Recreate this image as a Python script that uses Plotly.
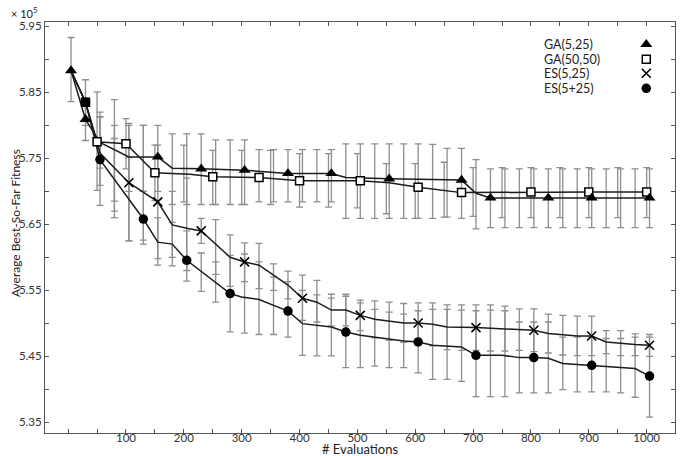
import plotly.graph_objects as go

# ---------------- data ----------------
# GA(5,25)
ga525_x = [5, 30, 55, 105, 155, 180, 230, 305, 380, 455, 480, 555, 680, 705, 730, 830, 905, 1005]
ga525_y = [5.883, 5.809, 5.774, 5.752, 5.752, 5.735, 5.734, 5.732, 5.727, 5.727, 5.721, 5.719, 5.717, 5.697, 5.690, 5.690, 5.690, 5.690]
ga525_mx = [5, 30, 155, 230, 305, 380, 455, 555, 680, 730, 830, 905, 1005]
ga525_my = [5.883, 5.809, 5.752, 5.734, 5.732, 5.727, 5.727, 5.719, 5.717, 5.690, 5.690, 5.690, 5.690]
ga525_ex = [5, 30, 55, 80, 105, 130, 155, 180, 205, 230, 255, 280, 305, 330, 355, 380, 405, 430, 455,
            480, 505, 530, 555, 580, 605, 630, 655, 680, 705, 730, 755, 780, 805, 830, 855, 880, 905,
            930, 955, 980, 1005]
ga525_elo = [5.836, 5.777, 5.735, 5.685, 5.700, 5.700, 5.700, 5.680, 5.680, 5.680, 5.680, 5.680, 5.680,
             5.684, 5.684, 5.684, 5.684, 5.684, 5.684, 5.659, 5.659, 5.659, 5.659, 5.659, 5.659, 5.659,
             5.661, 5.659, 5.643, 5.645, 5.645, 5.645, 5.645, 5.645, 5.645, 5.645, 5.645, 5.645, 5.645,
             5.645, 5.645]
ga525_ehi = [5.933, 5.840, 5.813, 5.839, 5.803, 5.800, 5.800, 5.787, 5.787, 5.787, 5.778, 5.778, 5.778,
             5.763, 5.763, 5.763, 5.763, 5.763, 5.763, 5.772, 5.772, 5.772, 5.772, 5.772, 5.772, 5.771,
             5.765, 5.765, 5.748, 5.734, 5.734, 5.734, 5.734, 5.734, 5.734, 5.734, 5.734, 5.734, 5.734,
             5.734, 5.734]

# GA(50,50)
ga5050_x = [5, 30, 50, 100, 150, 210, 250, 330, 400, 505, 555, 605, 680, 800, 900, 1000]
ga5050_y = [5.883, 5.835, 5.775, 5.772, 5.728, 5.726, 5.722, 5.721, 5.716, 5.716, 5.713, 5.706, 5.698, 5.699, 5.699, 5.699]
ga5050_mx = [30, 50, 100, 150, 250, 330, 400, 505, 605, 680, 800, 900, 1000]
ga5050_my = [5.835, 5.775, 5.772, 5.728, 5.722, 5.721, 5.716, 5.716, 5.706, 5.698, 5.699, 5.699, 5.699]
ga5050_ex = [50, 100, 150, 200, 250, 300, 350, 400, 450, 500, 550, 600, 650, 700, 750, 800, 850, 900, 950, 1000]
ga5050_elo = [5.7015, 5.734, 5.686, 5.684, 5.680, 5.680, 5.680, 5.676, 5.676, 5.675, 5.666, 5.659, 5.661,
              5.662, 5.660, 5.660, 5.660, 5.660, 5.660, 5.660]
ga5050_ehi = [5.8505, 5.810, 5.770, 5.770, 5.762, 5.762, 5.762, 5.757, 5.757, 5.757, 5.742, 5.742, 5.744,
              5.736, 5.736, 5.736, 5.736, 5.736, 5.736, 5.736]

# ES(5,25)
es525_x = [5, 30, 55, 105, 155, 180, 205, 230, 280, 305, 330, 380, 405, 430, 455, 480, 505, 530, 580, 605,
           630, 655, 705, 775, 805, 830, 880, 905, 930, 980, 1005]
es525_y = [5.883, 5.835, 5.758, 5.713, 5.684, 5.649, 5.644, 5.640, 5.600, 5.593, 5.588, 5.558, 5.538, 5.532,
           5.520, 5.520, 5.512, 5.506, 5.5005, 5.5005, 5.4985, 5.4944, 5.4935, 5.4905, 5.4894, 5.4844,
           5.4808, 5.4808, 5.4717, 5.4677, 5.4667]
es525_mx = [105, 155, 230, 305, 405, 505, 605, 705, 805, 905, 1005]
es525_my = [5.713, 5.684, 5.640, 5.593, 5.538, 5.512, 5.5005, 5.4935, 5.4894, 5.4808, 5.4667]
es525_ex = [30, 55, 80, 105, 130, 155, 180, 205, 230, 255, 280, 305, 330, 355, 380, 405, 430, 455, 480,
            505, 530, 555, 580, 605, 630, 655, 680, 705, 730, 755, 780, 805, 830, 855, 880, 905, 930,
            955, 980, 1005]
es525_elo = [5.800, 5.709, 5.670, 5.625, 5.626, 5.598, 5.600, 5.580, 5.621, 5.574, 5.556, 5.563, 5.5525,
             5.550, 5.537, 5.5045, 5.502, 5.496, 5.496, 5.489, 5.478, 5.474, 5.471, 5.470, 5.466, 5.460,
             5.459, 5.459, 5.458, 5.458, 5.459, 5.457, 5.455, 5.452, 5.451, 5.451, 5.454, 5.451, 5.451,
             5.450]
es525_ehi = [5.869, 5.820, 5.800, 5.800, 5.800, 5.770, 5.700, 5.720, 5.659, 5.657, 5.634, 5.622, 5.621,
             5.590, 5.579, 5.573, 5.565, 5.544, 5.544, 5.535, 5.534, 5.532, 5.530, 5.531, 5.531, 5.528,
             5.528, 5.528, 5.528, 5.526, 5.522, 5.522, 5.514, 5.512, 5.511, 5.511, 5.489, 5.489, 5.484,
             5.483]

# ES(5+25)
esp_x = [5, 30, 55, 130, 155, 180, 205, 280, 300, 330, 380, 405, 455, 480, 505, 580, 605, 630, 680, 705,
         750, 780, 805, 830, 855, 905, 980, 1005]
esp_y = [5.883, 5.835, 5.748, 5.658, 5.623, 5.620, 5.5955, 5.545, 5.540, 5.536, 5.5186, 5.4995, 5.4944,
         5.4868, 5.4818, 5.4732, 5.4717, 5.4667, 5.464, 5.4515, 5.4515, 5.448, 5.448, 5.447, 5.439,
         5.4364, 5.4314, 5.420]
esp_mx = [30, 55, 130, 205, 280, 380, 480, 605, 705, 805, 905, 1005]
esp_my = [5.835, 5.748, 5.658, 5.5955, 5.545, 5.5186, 5.4868, 5.4717, 5.4515, 5.448, 5.4364, 5.420]
esp_ex = [55, 80, 105, 130, 155, 180, 205, 230, 255, 280, 305, 330, 355, 380, 405, 430, 455, 480, 505,
          530, 555, 580, 605, 630, 655, 680, 705, 730, 755, 780, 805, 830, 855, 880, 905, 930, 955, 980,
          1005]
esp_elo = [5.6788, 5.660, 5.625, 5.620, 5.588, 5.587, 5.564, 5.5485, 5.532, 5.487, 5.485, 5.483, 5.483,
           5.479, 5.4515, 5.4505, 5.4505, 5.433, 5.433, 5.435, 5.433, 5.433, 5.425, 5.415, 5.415, 5.412,
           5.389, 5.389, 5.389, 5.3945, 5.3945, 5.3945, 5.3995, 5.396, 5.396, 5.396, 5.3945, 5.388, 5.358]
esp_ehi = [5.8126, 5.780, 5.751, 5.700, 5.660, 5.653, 5.640, 5.6065, 5.593, 5.603, 5.605, 5.593, 5.570,
           5.563, 5.550, 5.543, 5.538, 5.541, 5.531, 5.521, 5.517, 5.514, 5.519, 5.521, 5.521, 5.520,
           5.519, 5.520, 5.519, 5.502, 5.502, 5.502, 5.479, 5.479, 5.479, 5.477, 5.477, 5.479, 5.479]

series_names = ["GA(5,25)", "GA(50,50)", "ES(5,25)", "ES(5+25)"]
x_tick_vals = list(range(0, 1001, 50))
x_tick_text = [str(v) if v >= 100 and v % 100 == 0 else "" for v in x_tick_vals]
y_tick_vals = [5.35, 5.40, 5.45, 5.50, 5.55, 5.60, 5.65, 5.70, 5.75, 5.80, 5.85, 5.90, 5.95]
y_tick_text = ["5.35", "", "5.45", "", "5.55", "", "5.65", "", "5.75", "", "5.85", "", "5.95"]

# ---------------- styles ----------------
FONT = "Lato"
LINE_COL = "#1c1c1c"
ERR_COL = "#8e8e8e"
AX_COL = "#555555"

fig = go.Figure()

# error bars (drawn from lo with a one-sided bar up to hi)
for ex, lo, hi in [(ga525_ex, ga525_elo, ga525_ehi), (ga5050_ex, ga5050_elo, ga5050_ehi),
                   (es525_ex, es525_elo, es525_ehi), (esp_ex, esp_elo, esp_ehi)]:
    fig.add_trace(go.Scatter(
        x=ex, y=lo, mode="markers",
        marker=dict(size=1, color="rgba(0,0,0,0)"),
        error_y=dict(type="data", symmetric=False,
                     array=[h - l for h, l in zip(hi, lo)],
                     arrayminus=[0] * len(lo),
                     color=ERR_COL, thickness=1.3, width=3.5),
        hoverinfo="skip", showlegend=False))

# lines
for xs, ys in [(ga525_x, ga525_y), (ga5050_x, ga5050_y), (es525_x, es525_y), (esp_x, esp_y)]:
    fig.add_trace(go.Scatter(x=xs, y=ys, mode="lines",
                             line=dict(color=LINE_COL, width=1.5),
                             hoverinfo="skip", showlegend=False))

sym = {
    "GA(5,25)": dict(symbol="triangle-up", size=10.5, color="black", line=dict(width=0)),
    "GA(50,50)": dict(symbol="square", size=8, color="white", line=dict(color="black", width=1.5)),
    "ES(5,25)": dict(symbol="x-thin", size=9, color="black", line=dict(color="black", width=1.6)),
    "ES(5+25)": dict(symbol="circle", size=9.5, color="black", line=dict(width=0)),
}

# markers (order so triangles on top)
for name, mx, my in [("GA(50,50)", ga5050_mx, ga5050_my), ("ES(5+25)", esp_mx, esp_my),
                     ("ES(5,25)", es525_mx, es525_my), ("GA(5,25)", ga525_mx, ga525_my)]:
    fig.add_trace(go.Scatter(x=mx, y=my, mode="markers", marker=sym[name],
                             name=name, showlegend=False))

# custom legend: text on the left, symbol on the right
leg_rows = [0.9457, 0.9092, 0.8752, 0.8387]
for name, yy in zip(series_names, leg_rows):
    fig.add_trace(go.Scatter(x=[0.9544], y=[yy], mode="markers", marker=sym[name],
                             xaxis="x2", yaxis="y2", showlegend=False, hoverinfo="skip"))
    fig.add_annotation(x=0.789, y=yy, xref="paper", yref="paper", text=name,
                       showarrow=False, xanchor="left", yanchor="middle",
                       font=dict(family=FONT, size=12.5, color="#222"))

fig.add_annotation(x=0.5, y=-0.040, xref="paper", yref="paper", text="# Evaluations",
                   showarrow=False, xanchor="center", yanchor="middle",
                   font=dict(family=FONT, size=13, color="#222"))
fig.add_annotation(x=-0.0465, y=0.51, xref="paper", yref="paper", text="Average Best-So-Far Fitness",
                   textangle=-90, showarrow=False, xanchor="center", yanchor="middle",
                   font=dict(family=FONT, size=12, color="#222"))
fig.add_annotation(x=-0.033, y=1.0236, xref="paper", yref="paper", text="× 10<sup>5</sup>",
                   showarrow=False, xanchor="center", yanchor="middle",
                   font=dict(family=FONT, size=11, color="#222"))

axis_common = dict(showline=True, linecolor=AX_COL, linewidth=1, mirror="ticks",
                   ticks="inside", ticklen=4, tickcolor=AX_COL, tickwidth=1,
                   showgrid=False, zeroline=False, automargin=False,
                   tickfont=dict(family=FONT, size=11.5, color="#333"))

fig.update_layout(
    width=681, height=456,
    margin=dict(l=45, r=6, t=22, b=23),
    paper_bgcolor="white", plot_bgcolor="white",
    showlegend=False,
    xaxis=dict(range=[-40, 1049], tickmode="array", tickvals=x_tick_vals, ticktext=x_tick_text,
               ticklabelstandoff=-6, **axis_common),
    yaxis=dict(range=[5.3338, 5.9565], tickmode="array", tickvals=y_tick_vals, ticktext=y_tick_text,
               **axis_common),
    xaxis2=dict(overlaying="x", range=[0, 1], visible=False, automargin=False),
    yaxis2=dict(overlaying="y", range=[0, 1], visible=False, automargin=False),
)

# remove the browser's default 8px page margin so the figure fills the window exactly
fig.write_html("out.html", config={"displayModeBar": False},
               post_script="document.body.style.margin='0px';document.body.style.overflow='hidden';")
